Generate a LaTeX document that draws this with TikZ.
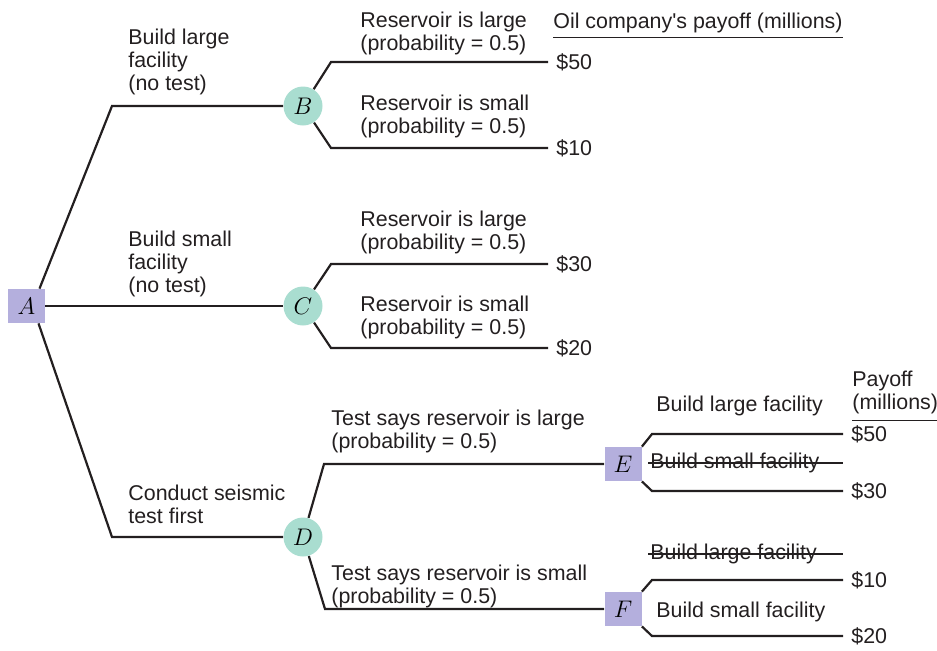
\documentclass[tikz,border=0pt]{standalone}
\usepackage{fontspec}
\setmainfont{Liberation Sans}
\usepackage{tikz}
\definecolor{decfill}{HTML}{B4AFDD}
\definecolor{chancefill}{HTML}{A9DDD0}
\definecolor{treeline}{HTML}{231F20}
\tikzset{
    decnode/.style={rectangle,fill=decfill,minimum width=18.5pt,minimum height=17pt,inner sep=0pt,font=\fontsize{11.5}{12}\selectfont},
    chancenode/.style={circle,fill=chancefill,minimum size=19.5pt,inner sep=0pt,font=\fontsize{11.5}{12}\selectfont},
    lbl/.style={inner sep=0pt,anchor=base west,align=left,text=treeline,font=\fontsize{10.7}{11.5}\selectfont},
    payoff/.style={inner xsep=4pt,inner ysep=0pt,anchor=west,text=treeline,font=\fontsize{10.7}{11.5}\selectfont},
    branch/.style={draw=treeline,line width=1.1pt},
    rule/.style={draw=treeline,line width=0.8pt}
}

\begin{document}
\begin{tikzpicture}[x=0.5pt,y=-0.5pt]
    \useasboundingbox (0,0) rectangle (937,650);
    \node[decnode] (A) at (26.5,306) {$A$};
    \node[chancenode] (B) at (303,106) {$B$};
    \node[chancenode] (C) at (303,306) {$C$};
    \node[chancenode] (D) at (303,537) {$D$};
    \node[decnode] (E) at (623,464) {$E$};
    \node[decnode] (F) at (623,609) {$F$};
    \node[payoff] (pB1) at (548,62) {\$50};
    \node[payoff] (pB2) at (548,148) {\$10};
    \node[payoff] (pC1) at (548,264) {\$30};
    \node[payoff] (pC2) at (548,348) {\$20};
    \node[payoff] (pE1) at (843,434) {\$50};
    \node[payoff] (pE2) at (843,491) {\$30};
    \node[payoff] (pF1) at (843,580) {\$10};
    \node[payoff] (pF2) at (843,636) {\$20};
    \coordinate (kB) at (112,106);
    \coordinate (kD) at (112,537);
    \coordinate (kB1) at (331,62);
    \coordinate (kB2) at (331,148);
    \coordinate (kC1) at (331,264);
    \coordinate (kC2) at (331,348);
    \coordinate (kD1) at (324,464);
    \coordinate (kD2) at (325,609);
    \coordinate (kE1) at (652,434);
    \coordinate (kE2) at (652,491);
    \coordinate (kF1) at (652,580);
    \coordinate (kF2) at (652,636);
    \draw[branch] ([shift={(13,0)}]A.north) -- (kB) -- (B);
    \draw[branch] (A) -- (C);
    \draw[branch] ([shift={(12,0)}]A.south) -- (kD) -- (D);
    \draw[branch] (B) -- (kB1) -- (pB1.west);
    \draw[branch] (B) -- (kB2) -- (pB2.west);
    \draw[branch] (C) -- (kC1) -- (pC1.west);
    \draw[branch] (C) -- (kC2) -- (pC2.west);
    \draw[branch] (D) -- (kD1) -- (E);
    \draw[branch] (D) -- (kD2) -- (F);
    \draw[branch] (E.north east) -- (kE1) -- (pE1.west);
    \draw[branch] (E.south east) -- (kE2) -- (pE2.west);
    \draw[branch] (F.north east) -- (kF1) -- (pF1.west);
    \draw[branch] (F.south east) -- (kF2) -- (pF2.west);
    \node[lbl] (hdr) at (553,28) {Oil company\textquotesingle s payoff (millions)};
    \draw[rule] ([yshift=-2.25pt]hdr.south west) -- ([yshift=-2.25pt]hdr.south east);
    \node[lbl] (payhd) at (852,409) {Payoff\\(millions)};
    \draw[rule] ([yshift=-3.25pt]payhd.south west) -- ([yshift=-3.25pt]payhd.south east);
    \node[lbl] (lAB) at (128,90) {Build large\\facility\\(no test)};
    \node[lbl] (lAC) at (128,292) {Build small\\facility\\(no test)};
    \node[lbl] (lAD) at (128,523) {Conduct seismic\\test first};
    \node[lbl] (lB1) at (360,50) {Reservoir is large\\(probability = 0.5)};
    \node[lbl] (lB2) at (360,133) {Reservoir is small\\(probability = 0.5)};
    \node[lbl] (lC1) at (360,249) {Reservoir is large\\(probability = 0.5)};
    \node[lbl] (lC2) at (360,334) {Reservoir is small\\(probability = 0.5)};
    \node[lbl] (lD1) at (331,448) {Test says reservoir is large\\(probability = 0.5)};
    \node[lbl] (lD2) at (331,603) {Test says reservoir is small\\(probability = 0.5)};
    \node[lbl] (lE1) at (656,411) {Build large facility};
    \node[lbl] (xE) at (650,468) {Build small facility};
    \draw[branch] ([shift={(-2,0)}]xE.mid west) -- (xE.mid west -| pE1.west);
    \node[lbl] (xF) at (650,559) {Build large facility};
    \draw[branch] ([shift={(-2,0)}]xF.mid west) -- (xF.mid west -| pF1.west);
    \node[lbl] (lF2) at (656,617) {Build small facility};
\end{tikzpicture}
\end{document}
